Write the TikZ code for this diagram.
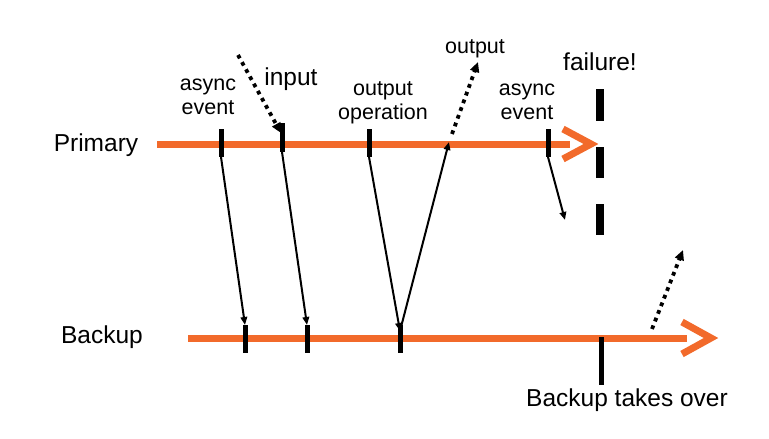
\documentclass[tikz,border=0pt]{standalone}
\usepackage{fontspec}
\setmainfont{Liberation Sans}
\usetikzlibrary{arrows.meta}
\definecolor{tlorange}{RGB}{242,106,43}
\begin{document}
\begin{tikzpicture}[x=1pt,y=-1pt,
  timeline/.style={draw=tlorange,line width=7pt},
  chevron/.style={draw=tlorange,line width=7pt,line join=miter},
  tick/.style={draw=black,line width=5pt},
  faildash/.style={draw=black,line width=8pt},
  msg/.style={draw=black,line width=2pt,-{Triangle[length=8pt,width=6.5pt]}},
  dotmsg/.style={draw=black,line width=3.8pt,dash pattern=on 3.8pt off 4.4pt,-{Triangle[length=10pt,width=9pt]}},
  big/.style={font=\fontsize{24.5}{26}\selectfont,inner sep=0pt},
  small/.style={font=\fontsize{21.5}{24}\selectfont,inner sep=0pt,align=center}]
\useasboundingbox (0,0) rectangle (769,439);
% timelines
\coordinate (pstart) at (157,144);
\coordinate (pend) at (570,144);
\coordinate (bstart) at (188,338);
\coordinate (bend) at (687,338);
\draw[timeline] (pstart) -- (pend);
\draw[chevron] (563,129) -- (591,144) -- (563,159);
\draw[timeline] (bstart) -- (bend);
\draw[chevron] (682,322) -- (711,338) -- (682,354);
% labels
\node[big] (primary) at (96,145) {Primary};
\node[big] (backup) at (102,337) {Backup};
\node[small] (async1) at (208,97) {async\\event};
\node[big] (input) at (291,79) {input};
\node[small] (outop) at (383,103) {output\\operation};
\node[small] (output) at (475,49) {output};
\node[big] (failure) at (600,62) {failure!};
\node[small] (async2) at (527,102) {async\\event};
\node[big] (takeover) at (627,400) {Backup takes over};
% primary ticks
\coordinate (t1a) at (221,129); \coordinate (t1b) at (221,157);
\coordinate (t2a) at (282,123); \coordinate (t2b) at (282,152);
\coordinate (t3a) at (369,129); \coordinate (t3b) at (369,157);
\coordinate (t4a) at (548,129); \coordinate (t4b) at (548,157);
\draw[tick] (t1a) -- (t1b);
\draw[tick] (t2a) -- (t2b);
\draw[tick] (t3a) -- (t3b);
\draw[tick] (t4a) -- (t4b);
% backup ticks
\coordinate (b1a) at (245,325); \coordinate (b1b) at (245,353);
\coordinate (b2a) at (307,325); \coordinate (b2b) at (307,353);
\coordinate (b3a) at (400,325); \coordinate (b3b) at (400,353);
\coordinate (b4a) at (601,337); \coordinate (b4b) at (601,385);
\draw[tick] (b1a) -- (b1b);
\draw[tick] (b2a) -- (b2b);
\draw[tick] (b3a) -- (b3b);
\draw[tick] (b4a) -- (b4b);
% failure dashes
\draw[faildash] (600,89) -- (600,121);
\draw[faildash] (600,147) -- (600,178);
\draw[faildash] (600,204) -- (600,235);
% messages
\coordinate (v) at (400,331);
\coordinate (outp) at (449,142);
\coordinate (outstart) at (452,134);
\coordinate (outend) at (478,62);
\coordinate (instart) at (238,55);
\coordinate (inend) at (281,133);
\coordinate (lost) at (565,220);
\coordinate (bdstart) at (652,329);
\coordinate (bdend) at (683,250);
\draw[msg] (t1b) -- (b1a);
\draw[msg] (t2b) -- (b2a);
\draw[msg] (t3b) -- (v);
\draw[msg] (v) -- (outp);
\draw[msg] (t4b) -- (lost);
\draw[dotmsg] (outstart) -- (outend);
\draw[dotmsg] (instart) -- (inend);
\draw[dotmsg] (bdstart) -- (bdend);
\end{tikzpicture}
\end{document}
